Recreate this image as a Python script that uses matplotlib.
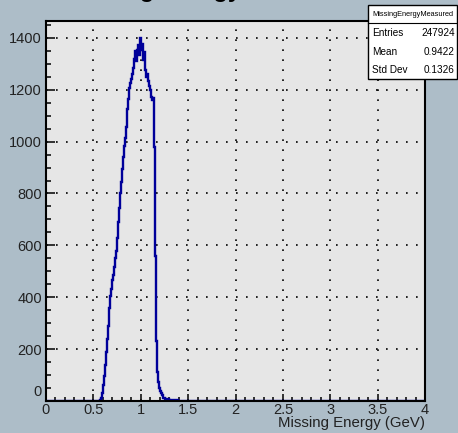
import numpy as np
import matplotlib
matplotlib.use("Agg")
import matplotlib.pyplot as plt
from matplotlib.ticker import MultipleLocator, FixedLocator

plt.rcParams['font.family'] = ['Liberation Sans', 'DejaVu Sans']

# ---- data ----
bin_width = 0.01
x_min, x_max = 0.0, 4.0
first_bin_low = 0.55
counts = [0, 0, 3, 10, 30, 60, 95, 140, 190, 240,
          290, 330, 360, 405, 430, 465, 485, 515, 550, 580,
          630, 690, 745, 800, 845, 895, 940, 985, 1015, 1055,
          1090, 1125, 1165, 1205, 1225, 1240, 1262, 1285, 1320, 1350,
          1310, 1355, 1372, 1335, 1398, 1352, 1378, 1315, 1345, 1292,
          1275, 1248, 1262, 1232, 1215, 1198, 1172, 1160, 1168, 980,
          560, 230, 110, 72, 52, 40, 30, 22, 17, 13,
          11, 9, 8, 7, 6, 5, 5, 4, 4, 3,
          3, 2, 2, 2, 1, 1, 1, 1, 1, 0]
title = "Missing Energy Measured"
stats_name = "MissingEnergyMeasured"
stats_rows = [("Entries", "247924"), ("Mean", "0.9422"), ("Std Dev", "0.1326")]
xlabel = "Missing Energy (GeV)"
xticks = [0, 0.5, 1, 1.5, 2, 2.5, 3, 3.5, 4]
xticklabels = ["0", "0.5", "1", "1.5", "2", "2.5", "3", "3.5", "4"]
yticks = [0, 200, 400, 600, 800, 1000, 1200, 1400]
yticklabels = ["", "200", "400", "600", "800", "1000", "1200", "1400"]

nbins = int(round((x_max - x_min) / bin_width))
edges = np.linspace(x_min, x_max, nbins + 1)
values = np.zeros(nbins)
start = int(round((first_bin_low - x_min) / bin_width))
values[start:start + len(counts)] = counts

W, H = 458, 433
bg = '#adbdc8'
fig = plt.figure(figsize=(W / 100, H / 100), dpi=100, facecolor=bg)
ax = fig.add_axes([46 / W, (H - 401) / H, (425 - 46) / W, (401 - 21) / H])
ax.set_facecolor('#e6e6e6')

ax.stairs(values, edges, color='#00009a', lw=1.7, zorder=3)

ax.set_xlim(x_min, x_max)
ax.set_ylim(0, 1465)

ax.xaxis.set_major_locator(FixedLocator(xticks))
ax.set_xticklabels(xticklabels)
ax.xaxis.set_minor_locator(MultipleLocator(0.1))
ax.yaxis.set_major_locator(FixedLocator(yticks))
ax.set_yticklabels(yticklabels)
ax.yaxis.set_minor_locator(MultipleLocator(50))

ax.tick_params(axis='both', which='both', direction='in', colors='black',
               labelsize=10.5, top=False, right=False)
ax.tick_params(axis='y', which='major', length=6.5, width=1.1, pad=3)
ax.tick_params(axis='y', which='minor', length=3.4, width=1.1)
ax.tick_params(axis='x', which='major', length=5.2, width=1.1, pad=1.5)
ax.tick_params(axis='x', which='minor', length=2.7, width=1.1)
for lab in ax.get_xticklabels() + ax.get_yticklabels():
    lab.set_color('#222222')

ax.grid(True, which='major', color='black', lw=1.2, linestyle=(0, (1, 5)))
ax.set_axisbelow(False)
for s in ax.spines.values():
    s.set_linewidth(1.5)
    s.set_zorder(5)

# raised zero label on y axis
fig.text(42 / W, (H - 392) / H, "0", ha='right', va='center', fontsize=10.5, color='#222222')

# x label
fig.text(425 / W, 6.5 / H, xlabel, ha='right', va='baseline', fontsize=10.8, color='#222222')

# title (mostly outside the picture)
fig.text(66 / W, (H + 3) / H, title, ha='left', va='baseline', fontsize=17,
         fontweight='bold', color='black')

# stats box
bx0, bx1, by0, by1 = 368, 457, 5, 79
box = plt.Rectangle((bx0 / W, (H - by1) / H), (bx1 - bx0) / W, (by1 - by0) / H,
                    transform=fig.transFigure, facecolor='white', edgecolor='black',
                    lw=1.0, zorder=10)
fig.add_artist(box)
sep_y = 23
fig.add_artist(plt.Line2D([bx0 / W, bx1 / W], [(H - sep_y) / H, (H - sep_y) / H],
                          transform=fig.transFigure, color='black', lw=0.8, zorder=11))
fig.text((bx0 + bx1) / 2 / W, (H - 14) / H, stats_name, ha='center', va='center',
         fontsize=5.3, color='black', zorder=12)
row_y = [33, 52, 70]
for (name, val), yy in zip(stats_rows, row_y):
    fig.text(372 / W, (H - yy) / H, name, ha='left', va='center', fontsize=7.2,
             color='black', zorder=12)
    fig.text(455 / W, (H - yy) / H, val, ha='right', va='center', fontsize=7.2,
             color='black', zorder=12)

fig.savefig('out.png', dpi=100, facecolor=bg)
